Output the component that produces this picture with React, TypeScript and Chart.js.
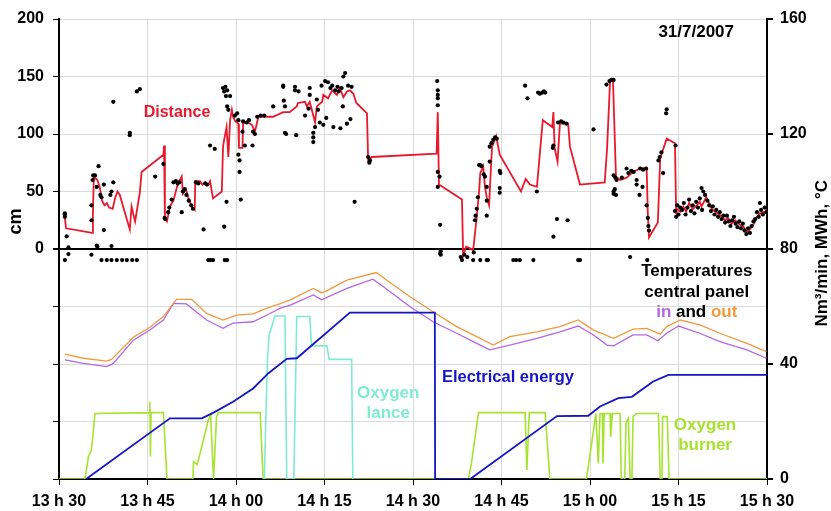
import { useEffect, useRef } from 'react';
import { Chart, registerables } from 'chart.js';

Chart.register(...registerables);

// x values are minutes after 13 h 30
const timeTickLabels = ['13 h 30', '13 h 45', '14 h 00', '14 h 15', '14 h 30', '14 h 45', '15 h 00', '15 h 15', '15 h 30'];

// Distance (cm, left axis) – red line
const distanceLine: number[][] = [
  [0.9, 31], [1.2, 18], [5.6, 14], [5.75, 30], [5.9, 63], [6.5, 60], [6.9, 54], [7.3, 42], [7.7, 38], [8.1, 40], [8.5, 36],
  [9.1, 35], [9.5, 44], [9.9, 50], [10.3, 47], [11.2, 31], [12.0, 17], [12.3, 37], [12.9, 24], [13.7, 49], [14.0, 67],
  [17.7, 82], [17.8, 90], [17.95, 27], [18.3, 24], [18.8, 37], [19.4, 42], [20.0, 54], [20.5, 60], [20.8, 63], [21.0, 48],
  [21.5, 52], [21.9, 45], [22.5, 37], [23.0, 34], [23.1, 59], [23.9, 59], [24.3, 56], [24.8, 58], [25.3, 56], [25.6, 59],
  [26.1, 44], [27.6, 50], [27.8, 89], [28.1, 98], [28.4, 106], [28.7, 80], [29.0, 112], [29.3, 121], [29.5, 115], [29.9, 111],
  [30.4, 109], [30.5, 88], [31.1, 88], [31.2, 109], [32.0, 110], [32.7, 108], [33.2, 102], [33.8, 115], [36.3, 115], [38.0, 119],
  [39.1, 119], [40.3, 124], [40.5, 127], [41.7, 128], [42.0, 124], [42.5, 128], [43.4, 110], [43.7, 124], [44.6, 128], [44.8, 134],
  [45.6, 131], [46.3, 138], [47.1, 134], [47.6, 140], [48.2, 132], [48.8, 137], [49.3, 138], [49.9, 135], [50.4, 127], [52.2, 118],
  [52.4, 77], [53.0, 80], [64.0, 83], [64.2, 119], [64.4, 56], [68.3, 43], [68.5, -6], [69.0, 2], [69.5, 1], [70.2, -1],
  [70.8, 28], [71.2, 50], [71.4, 66], [71.9, 72], [72.2, 54], [72.5, 45], [72.9, 38], [73.2, 70], [73.4, 89], [74.1, 98],
  [74.7, 82], [78.3, 50], [79.1, 61], [79.8, 56], [81.0, 54], [82.0, 112], [83.6, 106], [83.8, 119], [84.0, 88], [84.5, 76],
  [84.9, 109], [86.3, 109], [86.6, 89], [88.3, 56], [92.5, 58], [92.9, 88], [93.4, 146], [93.9, 146], [94.4, 63], [95.1, 60],
  [96.2, 62], [97.3, 67], [98.5, 70], [99.6, 70], [99.8, 31], [100.0, 10], [101.5, 23], [101.9, 79], [103.0, 96], [104.4, 92],
  [104.6, 31], [104.7, 35], [105.3, 32.5], [105.8, 37], [106.3, 32.5], [106.8, 40], [107.4, 34.5], [108.1, 38], [108.6, 41],
  [108.9, 37], [109.7, 45], [110.1, 41], [110.6, 35], [111.2, 32.5], [112.0, 29.6], [112.9, 25], [113.4, 27], [114.0, 22],
  [114.6, 25], [115.4, 21], [116.0, 19.4], [116.6, 15], [117.1, 17], [117.7, 21], [118.3, 28], [118.8, 31], [119.7, 32.5], [120.0, 34],
];

// Distance raw readings (cm, left axis) – black dots
const distanceDots: number[][] = [
  [1.0, 31], [1.0, 30], [1.0, 28], [1.3, 11], [1.6, 1.4], [1.0, -9.6], [1.6, -4.4], [5.5, 25], [5.5, 38], [5.5, -5],
  [5.7, 60], [5.8, 64], [6.1, 64], [6.4, 54], [6.7, 72], [6.4, 3], [6.5, 2], [7.0, 47], [7.2, 45], [7.6, 56], [7.6, 16.5],
  [8.7, 47], [8.9, 50], [9.2, 58], [8.9, 2.6], [9.2, 128], [12.0, 99], [12.0, 101], [13.2, 137], [13.7, 139], [16.3, 63],
  [17.7, 74], [17.9, 27], [18.0, 26], [18.5, 32], [18.7, 36], [19.1, 43], [19.4, 58], [19.8, 59], [20.1, 57], [20.4, 58],
  [20.8, 32], [21.0, 50], [21.3, 52], [21.6, 47], [22.0, 42], [22.4, 38], [22.7, 35], [23.2, 58], [23.6, 57], [24.5, 17],
  [24.8, 57], [25.1, 56], [25.6, 90], [26.4, 87], [27.8, 140], [28.0, 137], [28.2, 141], [28.5, 138], [28.3, 133], [28.5, 124],
  [28.7, 121], [28.0, 19.4], [28.4, 41], [29.0, 133], [29.8, 116], [30.2, 118], [30.4, 112], [30.4, 82], [30.6, 77], [30.6, 67],
  [30.8, 43], [31.1, 102], [31.5, 90], [31.2, 111], [31.8, 110], [32.2, 112], [32.8, 90], [32.9, 102], [33.2, 100], [33.6, 115],
  [34.2, 116], [34.8, 116], [36.3, 124],
  [7.2, -9.6], [8.1, -9.6], [8.9, -9.6], [9.8, -9.6], [10.7, -9.6], [11.5, -9.6], [12.4, -9.6], [13.2, -9.6], [25.3, -9.6],
  [25.7, -9.6], [26.1, -9.6], [28.1, -9.6], [28.5, -9.6],
  [38.0, 142], [38.0, 141], [38.1, 129], [38.3, 124], [38.3, 101], [38.5, 100], [40.0, 141], [40.0, 138], [40.2, 99], [40.6, 137],
  [41.7, 116], [42.3, 122], [42.5, 140], [42.5, 134], [43.1, 101], [43.1, 97], [43.1, 93], [43.4, 106], [43.7, 130], [43.9, 121],
  [44.2, 110], [44.5, 142], [44.8, 108], [45.1, 146], [45.3, 114], [45.6, 145], [46.0, 140], [46.3, 142], [46.5, 106], [46.8, 138],
  [47.2, 141], [47.4, 137], [47.7, 105], [47.9, 140], [48.1, 124], [48.2, 150], [48.5, 153], [48.8, 109], [49.0, 142], [49.4, 113],
  [49.6, 141], [50.1, 41], [52.4, 80], [52.6, 75], [52.7, 77],
  [64.1, 146], [64.2, 138], [64.2, 134], [64.2, 131], [64.2, 125], [64.2, 67], [64.5, 63], [64.2, 54], [64.6, 21], [64.7, -2],
  [64.7, -5], [64.6, -4], [68.1, -7], [68.3, -9.6], [68.7, -5], [69.2, -7], [70.2, -9.6], [70.3, -3], [70.5, 25], [70.6, 29],
  [70.8, 35], [71.0, 45], [71.2, 73], [71.4, 73], [71.6, 72], [72.0, 65], [72.2, 63], [72.5, 54], [72.5, 42], [72.5, 29],
  [72.5, -9.6], [72.7, -9.6], [71.4, -9.6], [73.0, 89], [73.0, 76], [73.3, 92], [73.6, 95], [73.9, 97], [74.2, 96], [74.7, 68],
  [74.8, 66], [74.7, 53], [74.7, 49], [77.0, -9.6], [77.5, -9.6], [78.1, -9.6], [80.4, -9.6], [79.0, 142], [79.4, 131], [81.0, 50],
  [81.2, 136], [81.5, 135], [81.9, 136], [82.2, 137], [82.4, 136], [83.7, 88], [83.8, 90], [83.8, 10.7], [84.4, 26], [84.6, 110],
  [85.1, 111], [85.5, 110], [86.0, 109], [86.2, 25], [88.0, -9.6], [88.3, -9.6], [90.6, 104], [92.8, 143], [93.3, 146], [93.6, 147],
  [94.0, 147], [94.0, 50], [94.2, 52], [94.0, 64], [94.3, 62], [94.5, 60], [94.0, 48], [94.4, 47], [95.4, 62], [96.2, 70],
  [96.8, -7], [96.5, 66], [97.0, 68], [97.4, 67], [97.9, 60], [97.9, 56], [98.4, 47], [98.9, 54], [98.5, 70], [99.0, 69],
  [99.5, 70], [99.7, -9.6], [99.6, 38], [99.8, 27], [99.9, 20], [100.0, 16], [101.6, 77], [101.8, 80], [102.1, 84], [102.4, 66],
  [102.9, 118], [103.0, 121.5],
  [104.5, 90], [104.4, 33], [104.6, 28], [104.8, 38], [105.0, 30], [105.3, 36], [105.6, 34], [105.9, 40], [106.2, 30], [106.5, 36],
  [106.8, 43], [107.1, 33], [107.4, 38], [107.7, 31], [108.0, 41], [108.3, 36], [108.6, 44], [108.9, 53], [109.2, 50], [109.0, 34],
  [109.5, 47], [109.9, 42], [110.2, 38], [110.5, 33], [110.8, 37], [111.1, 30], [111.4, 34], [111.7, 28], [112.0, 32], [112.3, 26],
  [112.6, 29], [112.9, 23], [113.2, 29], [113.5, 24], [113.8, 20], [114.1, 25], [114.4, 28], [114.7, 22], [115.0, 19], [115.3, 24],
  [115.6, 18], [115.9, 22], [116.2, 16], [116.5, 13], [116.8, 18], [117.1, 14], [117.4, 20], [117.7, 24], [118.0, 26], [118.3, 32],
  [118.6, 28], [118.8, 40], [119.0, 34], [119.3, 30], [119.6, 36], [119.9, 32],
];

// Temperatures central panel (°C, right axis)
const tempOut: number[][] = [
  [1.0, 43.4], [4.1, 42.0], [8.1, 41.0], [8.9, 41.6], [12.6, 49.3], [15.4, 52.8], [17.7, 56.5], [19.9, 62.5], [22.5, 62.5],
  [25.0, 57.6], [27.8, 55.3], [30.1, 57.0], [32.9, 57.4], [35.5, 59.6], [37.5, 61.0], [39.2, 62.3], [43.1, 66.3], [44.5, 64.8],
  [45.1, 65.2], [48.8, 69.2], [53.8, 71.8], [55.5, 69.2], [59.5, 63.4], [63.4, 58.2], [67.4, 53.0], [70.8, 49.5], [73.6, 46.6],
  [76.4, 49.5], [81.0, 51.2], [84.9, 53.0], [88.0, 55.3], [90.6, 51.8], [94.0, 48.9], [97.3, 52.1], [99.6, 52.4], [101.9, 50.4],
  [103.0, 53.0], [105.3, 55.3], [108.6, 53.6], [112.0, 50.7], [116.6, 47.2], [119.9, 44.3],
];
const tempIn: number[][] = [
  [1.0, 41.4], [4.1, 40.2], [8.1, 39.1], [9.2, 40.2], [12.6, 48.3], [15.4, 51.8], [17.7, 55.3], [19.4, 61.1], [21.6, 60.9],
  [25.0, 55.3], [27.8, 52.4], [29.5, 54.2], [32.9, 54.7], [35.5, 57.3], [37.5, 59.4], [39.2, 60.5], [43.1, 64.0], [44.5, 62.3],
  [48.8, 66.3], [53.2, 69.5], [55.0, 66.9], [59.5, 59.9], [63.4, 54.7], [67.4, 50.7], [70.8, 47.2], [73.0, 44.9], [76.4, 46.6],
  [81.0, 48.9], [84.9, 51.2], [88.0, 53.2], [90.6, 50.1], [92.9, 46.6], [94.0, 46.3], [97.3, 50.1], [99.6, 50.1], [101.5, 48.1],
  [103.0, 50.7], [105.0, 53.2], [108.6, 50.7], [112.0, 47.8], [116.6, 44.9], [119.9, 42.0],
];

// Electrical energy (MWh, right axis)
const electricalEnergy: number[][] = [
  [4.6, 0], [18.8, 21.1], [24.2, 21.1], [26.2, 23.1], [29.5, 26.9], [32.9, 31.5], [35.5, 36.8], [38.6, 41.8], [40.3, 42.0],
  [49.3, 57.9], [63.7, 57.9], [63.75, 0], [69.7, 0], [84.4, 21.9], [89.7, 22.0], [91.7, 25.2], [94.8, 28.1], [97.1, 28.6],
  [100.7, 33.9], [103.3, 36.2], [120, 36.2],
];

// Oxygen lance (Nm³/min, right axis)
const oxygenLance: number[][] = [
  [34.8, 0], [35.3, 40], [35.6, 50], [36.6, 56.7], [38.3, 56.7], [38.6, 0], [39.8, 0], [40.3, 56.5], [42.5, 56.5],
  [42.8, 46.3], [45.4, 46.3], [45.8, 41.6], [49.6, 41.6], [49.8, 0],
];

// Oxygen burner (Nm³/min, right axis)
const oxygenBurner: number[][] = [
  [0, 0], [4.4, 0], [5.0, 7.8], [5.5, 10.1], [6.1, 22.8], [15.3, 23.1], [15.4, 26.9], [15.5, 7.8], [15.6, 23.1], [17.7, 23.1],
  [18.3, 0], [22.7, 0], [22.8, 6], [23.4, 5], [24.2, 11.2], [25.3, 20.5], [25.7, 22.3], [26.2, 0], [26.7, 21.7], [27.0, 23.1],
  [34.1, 23.1], [34.6, 0], [69.4, 0], [69.9, 5.4], [71.1, 23.1], [79.0, 23.1], [79.3, 3.1], [79.7, 23.1], [82.4, 23.1], [83.2, 0],
  [89.4, 0], [90.6, 17], [91.0, 22.8], [91.4, 5.4], [91.7, 22.8], [92.1, 22.8], [92.2, 5.4], [92.4, 22.8], [93.4, 22.8],
  [93.5, 14.7], [93.8, 22.8], [95.1, 22.8], [95.3, 0], [95.9, 0], [96.1, 19.4], [96.5, 21.1], [96.8, 0], [97.1, 0], [97.3, 21.7],
  [97.9, 22.8], [101.6, 22.8], [101.9, 0], [102.2, 0], [102.3, 21.7], [103.1, 21.7], [103.4, 0], [120, 0],
];

const RED = '#E8192C';
const PURPLE = '#B366E6';
const ORANGE = '#F09A3E';
const BLUE = '#1515C8';
const LANCE = '#7FEBD0';
const BURNER = '#A6E22E';
const FONT = '"Liberation Sans", Arial, sans-serif';

const toXY = (arr: number[][]) => arr.map(([x, y]) => ({ x, y }));

const textPlugin = {
  id: 'textPlugin',
  afterDatasetsDraw(chart: any) {
    const { ctx, scales } = chart;
    const xs = scales.x, yL = scales.yL, yR = scales.yR;
    const put = (t: string, x: number, y: number, color: string, size: number, align: CanvasTextAlign = 'center') => {
      ctx.font = `bold ${size}px ${FONT}`;
      ctx.fillStyle = color;
      ctx.textAlign = align;
      ctx.textBaseline = 'middle';
      ctx.fillText(t, x, y);
    };
    ctx.save();
    put('Distance', xs.getPixelForValue(20.0), yL.getPixelForValue(119), RED, 16);
    put('31/7/2007', xs.getPixelForValue(108.0), yL.getPixelForValue(188), '#000', 17);
    const tx = xs.getPixelForValue(108.1);
    put('Temperatures', tx, yR.getPixelForValue(72.3), '#000', 17);
    put('central panel', tx, yR.getPixelForValue(65.0), '#000', 17);
    // "in and out" with colored words
    ctx.font = `bold 17px ${FONT}`;
    const w1 = ctx.measureText('in ').width;
    const w2 = ctx.measureText('and ').width;
    const w3 = ctx.measureText('out').width;
    let sx = tx - (w1 + w2 + w3) / 2;
    const ly = yR.getPixelForValue(58.1);
    put('in ', sx, ly, PURPLE, 17, 'left');
    sx += w1;
    put('and ', sx, ly, '#000', 17, 'left');
    sx += w2;
    put('out', sx, ly, ORANGE, 17, 'left');
    put('Electrical energy', xs.getPixelForValue(64.9), yR.getPixelForValue(35.2), BLUE, 16.5, 'left');
    put('Oxygen', xs.getPixelForValue(55.8), yR.getPixelForValue(29.9), LANCE, 17);
    put('lance', xs.getPixelForValue(55.8), yR.getPixelForValue(23.0), LANCE, 17);
    put('Oxygen', xs.getPixelForValue(109.5), yR.getPixelForValue(18.8), BURNER, 17);
    put('burner', xs.getPixelForValue(109.5), yR.getPixelForValue(11.8), BURNER, 17);
    ctx.restore();
  },
  afterDraw(chart: any) {
    const { ctx } = chart;
    ctx.save();
    ctx.fillStyle = '#000';
    ctx.textAlign = 'center';
    ctx.textBaseline = 'middle';
    ctx.font = `bold 18px ${FONT}`;
    ctx.translate(16, chart.scales.yL.getPixelForValue(24));
    ctx.rotate(-Math.PI / 2);
    ctx.fillText('cm', 0, 0);
    ctx.restore();
    ctx.save();
    ctx.fillStyle = '#000';
    ctx.textAlign = 'center';
    ctx.textBaseline = 'middle';
    ctx.font = `bold 17px ${FONT}`;
    ctx.translate(822, chart.scales.yR.getPixelForValue(78.5));
    ctx.rotate(-Math.PI / 2);
    ctx.fillText('Nm³/min, MWh, °C', 0, 0);
    ctx.restore();
  },
};

export default function App() {
  const ref = useRef<HTMLCanvasElement | null>(null);
  useEffect(() => {
    document.body.style.margin = '0';
    const canvas = ref.current;
    if (!canvas) return;
    Chart.defaults.font.family = FONT;
    Chart.defaults.font.size = 16;
    Chart.defaults.font.weight = 'bold';
    Chart.defaults.color = '#000';
    const line = (label: string, data: number[][], color: string, width: number, axis: string, order: number) => ({
      label,
      data: toXY(data),
      borderColor: color,
      backgroundColor: color,
      borderWidth: width,
      pointRadius: 0,
      fill: false,
      tension: 0,
      yAxisID: axis,
      order,
    });
    const chart = new Chart(canvas, {
      type: 'line',
      data: {
        datasets: [
          {
            label: 'Distance readings',
            data: toXY(distanceDots),
            showLine: false,
            pointRadius: 2.1,
            pointBorderWidth: 0,
            pointBackgroundColor: '#000',
            borderColor: '#000',
            yAxisID: 'yL',
            order: 0,
          } as any,
          line('Distance', distanceLine, RED, 1.8, 'yL', 1),
          line('Temperature out', tempOut, ORANGE, 1.3, 'yR', 3),
          line('Temperature in', tempIn, PURPLE, 1.3, 'yR', 4),
          line('Electrical energy', electricalEnergy, BLUE, 1.8, 'yR', 2),
          line('Oxygen lance', oxygenLance, LANCE, 1.6, 'yR', 5),
          line('Oxygen burner', oxygenBurner, BURNER, 1.6, 'yR', 6),
        ],
      },
      options: {
        responsive: false,
        animation: false,
        layout: { padding: { top: 19, left: 0, right: 0, bottom: 0 } },
        plugins: { legend: { display: false }, tooltip: { enabled: false } },
        scales: {
          x: {
            type: 'linear',
            min: 0,
            max: 120,
            afterBuildTicks: (s: any) => {
              s.ticks = [0, 15, 30, 45, 60, 75, 90, 105, 120].map((v) => ({ value: v }));
            },
            ticks: {
              padding: 7,
              maxRotation: 0,
              autoSkip: false,
              callback: (v: any) => timeTickLabels[Math.round(Number(v) / 15)] ?? '',
            },
            grid: { color: '#DADADA', lineWidth: 1, tickColor: '#000', tickLength: 6 },
            border: { color: '#000', width: 2 },
            afterFit: (s: any) => { s.height = 32; },
          },
          yL: {
            type: 'linear',
            position: 'left',
            min: -200,
            max: 200,
            ticks: {
              stepSize: 50,
              padding: 9,
              callback: (v: any) => (Number(v) >= 0 ? String(v) : ''),
            },
            grid: {
              color: (c: any) => (c.tick && c.tick.value === 0 ? '#000' : '#DADADA'),
              lineWidth: (c: any) => (c.tick && c.tick.value === 0 ? 2 : 1),
              tickColor: '#000',
              tickLength: 6,
            },
            border: { color: '#000', width: 2 },
            afterFit: (s: any) => { s.width = 59; },
          },
          yR: {
            type: 'linear',
            position: 'right',
            min: 0,
            max: 160,
            ticks: { stepSize: 40, padding: 7 },
            grid: { drawOnChartArea: false, tickColor: '#000', tickLength: 6, lineWidth: 2 },
            border: { color: '#000', width: 2 },
            afterFit: (s: any) => { s.width = 64; },
          },
        },
      } as any,
      plugins: [textPlugin],
    });
    return () => chart.destroy();
  }, []);
  return (
    <div style={{ width: 831, height: 511, overflow: 'hidden', background: '#fff' }}>
      <canvas ref={ref} width={831} height={511} style={{ display: 'block', width: 831, height: 511 }} />
    </div>
  );
}
